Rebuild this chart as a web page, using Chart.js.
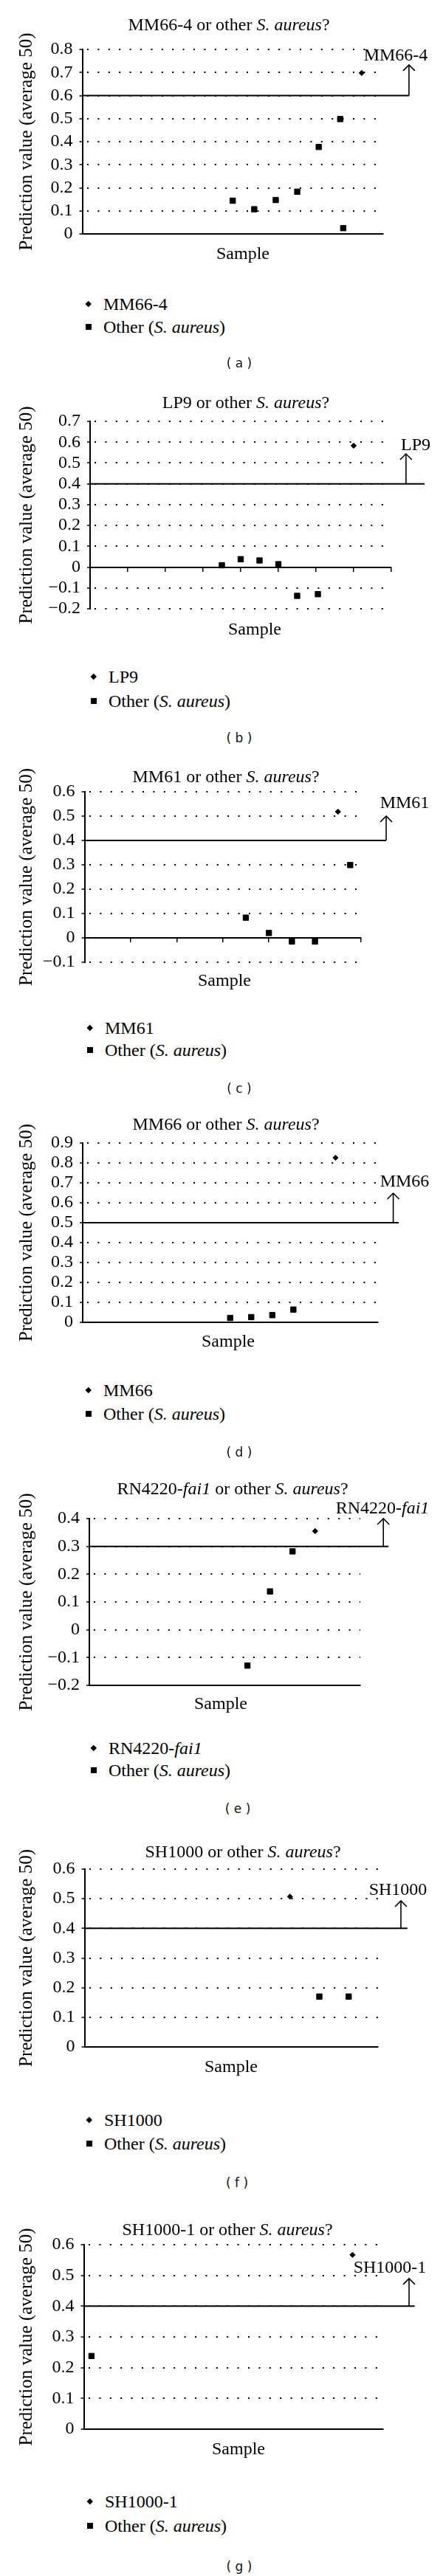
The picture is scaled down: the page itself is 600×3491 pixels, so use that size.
<!DOCTYPE html>
<html>
<head>
<meta charset="utf-8">
<title>Prediction value panels</title>
<script src="https://cdn.jsdelivr.net/npm/chart.js@4.4.1/dist/chart.umd.min.js"></script>
<style>
  body { margin: 0; background: #fff; }
  #page { position: relative; width: 600px; height: 3491px; overflow: hidden; color: #000;
          font-family: "Liberation Serif", "Times New Roman", serif; }
  #page canvas { position: absolute; left: 0; }
  .txt { position: absolute; white-space: nowrap; font-size: 24px; line-height: 1; transform: translate(-50%, -50%); }
  .leg { transform: translate(0, -50%); }
  .cap { font-family: "DejaVu Sans", sans-serif; font-size: 17px; color: #111; }
  .mk { position: absolute; background: #000; }
</style>
</head>
<body>
<div id="page"></div>
<script>
// ---- values ----
const strainNames = ['MM66-4', 'LP9', 'MM61', 'MM66', 'RN4220-<i>fai1</i>', 'SH1000', 'SH1000-1'];
const panelLetters = ['a', 'b', 'c', 'd', 'e', 'f', 'g'];
const thresholds = [0.6, 0.4, 0.4, 0.5, 0.3, 0.4, 0.4];
const yMins = [0, -0.2, -0.1, 0, -0.2, 0, 0];
const yMaxs = [0.8, 0.7, 0.6, 0.9, 0.4, 0.6, 0.6];
const sampleMax = [14, 16, 12, 14, 12, 10, 39];

// (a) MM66-4
const aStrainX = [13];
const aStrainY = [0.698];
const aOtherX = [7, 8, 9, 10, 11, 12, 12.14];
const aOtherY = [0.144, 0.107, 0.147, 0.183, 0.377, 0.498, 0.025];
// (b) LP9
const bStrainX = [14];
const bStrainY = [0.583];
const bOtherX = [7, 8, 9, 10, 11, 12.1];
const bOtherY = [0.009, 0.038, 0.032, 0.014, -0.138, -0.130];
// (c) MM61
const cStrainX = [11];
const cStrainY = [0.518];
const cOtherX = [7, 8, 9, 10, 11.53];
const cOtherY = [0.083, 0.020, -0.015, -0.015, 0.299];
// (d) MM66
const dStrainX = [12];
const dStrainY = [0.826];
const dOtherX = [7, 8, 9, 10];
const dOtherY = [0.022, 0.026, 0.036, 0.064];
// (e) RN4220-fai1
const eStrainX = [10];
const eStrainY = [0.355];
const eOtherX = [7, 8, 9];
const eOtherY = [-0.129, 0.138, 0.282];
// (f) SH1000
const fStrainX = [7];
const fStrainY = [0.507];
const fOtherX = [8, 9];
const fOtherY = [0.170, 0.170];
// (g) SH1000-1
const gStrainX = [35];
const gStrainY = [0.567];
const gOtherX = [1];
const gOtherY = [0.238];

const strainX = [aStrainX, bStrainX, cStrainX, dStrainX, eStrainX, fStrainX, gStrainX];
const strainY = [aStrainY, bStrainY, cStrainY, dStrainY, eStrainY, fStrainY, gStrainY];
const otherX = [aOtherX, bOtherX, cOtherX, dOtherX, eOtherX, fOtherX, gOtherX];
const otherY = [aOtherY, bOtherY, cOtherY, dOtherY, eOtherY, fOtherY, gOtherY];

// ---- layout (page pixels / axis units), kept apart from the values ----
// plot area of each panel: [left, right, top, bottom]
const plotBoxes = [
  [111.5, 519, 67, 317],
  [122, 530, 571, 825],
  [114.5, 489, 1073, 1304],
  [112, 511.5, 1549, 1792],
  [121, 488, 2058, 2284],
  [114.5, 512, 2533, 2774],
  [113.5, 519, 3042, 3292]
];
const axisCross = [0, 0, 0, 0, -0.2, 0, 0];     // y value where the sample axis sits
const axisTickStep = [0, 2, 2, 0, 0, 0, 0];     // 0 = no tick marks
const thrEnds = [15.2, 17.77, 13.09, 15.0, 13.25, 11.0, 43.1];
const arrowXs = [15.2, 16.78, 13.09, 14.74, 13.02, 10.78, 42.37];
const arrowTips = [0.733, 0.544, 0.5, 0.648, 0.4, 0.493, 0.49];

const titlePos = [[310, 33], [333, 545], [306, 1052], [306, 1523], [315, 2017], [329, 2509], [308, 3021]];
const labelPos = [[536, 74], [563, 602], [548, 1087], [548, 1600], [518, 2043], [539, 2560], [528, 3072]];
const samplePos = [[329, 343], [345, 852], [304, 1328], [309, 1817], [299, 2308], [313, 2800], [323, 3318]];
const legendPos = [[120, 412, 443], [127, 917, 950], [122, 1393, 1423], [120, 1884, 1916],
                   [127, 2369, 2399], [121, 2873, 2905], [122, 3390, 3423]];
const captionPos = [[324, 492], [324, 1000], [324, 1475], [324, 1968], [322, 2451], [321, 2958], [324, 3478]];

const serif = '"Liberation Serif", "Times New Roman", serif';
const page = document.getElementById('page');

function addText(html, x, y, cls) {
  const d = document.createElement('div');
  d.className = 'txt ' + (cls || '');
  d.innerHTML = html;
  d.style.left = x + 'px';
  d.style.top = y + 'px';
  page.appendChild(d);
}

function addMarker(x, y, size, diamond) {
  const m = document.createElement('div');
  m.className = 'mk';
  m.style.width = size + 'px';
  m.style.height = size + 'px';
  m.style.left = (x - size / 2) + 'px';
  m.style.top = (y - size / 2) + 'px';
  if (diamond) m.style.transform = 'rotate(45deg)';
  page.appendChild(m);
}

function fmtTick(v) {
  const r = Math.round(v * 10) / 10;
  if (r === 0) return '0';
  return (r < 0 ? '\u2212' : '') + Math.abs(r).toFixed(1);
}

// open chevron on top of the arrow shaft
const arrowHead = {
  id: 'arrowHead',
  afterDatasetsDraw(chart) {
    const ctx = chart.ctx;
    chart.data.datasets.forEach((ds, i) => {
      if (!ds.isArrow) return;
      const pts = chart.getDatasetMeta(i).data;
      const tip = pts[pts.length - 1];
      ctx.save();
      ctx.strokeStyle = '#000';
      ctx.lineWidth = 1.6;
      ctx.beginPath();
      ctx.moveTo(tip.x - 8, tip.y + 8);
      ctx.lineTo(tip.x, tip.y);
      ctx.lineTo(tip.x + 8, tip.y + 8);
      ctx.stroke();
      ctx.restore();
    });
  }
};

for (let i = 0; i < 7; i++) {
  const [L, R, T, B] = plotBoxes[i];
  const top = T - 70;
  const h = Math.round(B - top + 60);

  const canvas = document.createElement('canvas');
  canvas.width = 600;
  canvas.height = h;
  canvas.style.top = top + 'px';
  canvas.style.width = '600px';
  canvas.style.height = h + 'px';
  page.appendChild(canvas);

  const thr = thresholds[i];

  new Chart(canvas, {
    type: 'scatter',
    data: {
      datasets: [
        {
          label: 'Other (S. aureus)',
          data: otherX[i].map((x, k) => ({ x: x, y: otherY[i][k] })),
          pointStyle: 'rect',
          pointRadius: 5.2,
          backgroundColor: '#000',
          borderColor: '#000',
          borderWidth: 1
        },
        {
          label: strainNames[i],
          data: strainX[i].map((x, k) => ({ x: x, y: strainY[i][k] })),
          pointStyle: 'rectRot',
          pointRadius: 3.6,
          backgroundColor: '#000',
          borderColor: '#000',
          borderWidth: 1
        },
        {
          type: 'line',
          label: 'cut-off',
          data: [{ x: 0, y: thr }, { x: thrEnds[i], y: thr }],
          borderColor: '#000',
          borderWidth: 2,
          pointRadius: 0,
          clip: false
        },
        {
          type: 'line',
          label: 'arrow',
          isArrow: true,
          data: [{ x: arrowXs[i], y: thr }, { x: arrowXs[i], y: arrowTips[i] }],
          borderColor: '#000',
          borderWidth: 1.6,
          pointRadius: 0,
          clip: false
        }
      ]
    },
    options: {
      responsive: false,
      animation: false,
      devicePixelRatio: 1,
      layout: { padding: { left: 0, right: 600 - R, top: T - top, bottom: top + h - B } },
      plugins: { legend: { display: false }, tooltip: { enabled: false } },
      scales: {
        x: {
          type: 'linear',
          min: 0,
          max: sampleMax[i],
          position: { y: axisCross[i] },
          ticks: { display: false, stepSize: axisTickStep[i] || sampleMax[i] },
          grid: {
            display: axisTickStep[i] > 0,
            drawOnChartArea: false,
            drawTicks: true,
            tickLength: 5,
            color: '#000',
            lineWidth: 1.5
          },
          border: { display: true, color: '#000', width: 2 }
        },
        y: {
          type: 'linear',
          min: yMins[i],
          max: yMaxs[i],
          afterFit: (s) => { s.width = L; },
          ticks: {
            stepSize: 0.1,
            autoSkip: false,
            padding: 9,
            color: '#000',
            font: { family: serif, size: 24 },
            callback: fmtTick
          },
          grid: { color: '#000', lineWidth: 2, tickLength: 4, tickWidth: 1.5 },
          border: { display: true, color: '#000', width: 2, dash: [2, 12.4], dashOffset: 9.4 },
          title: {
            display: true,
            text: 'Prediction value (average 50)',
            color: '#000',
            font: { family: serif, size: 25 },
            padding: { top: 21, bottom: 0 }
          }
        }
      }
    },
    plugins: [arrowHead]
  });

  // texts around the plot
  addText(strainNames[i] + ' or other <i>S. aureus</i>?', titlePos[i][0], titlePos[i][1]);
  addText(strainNames[i], labelPos[i][0], labelPos[i][1]);
  addText('Sample', samplePos[i][0], samplePos[i][1]);

  const [lx, ly1, ly2] = legendPos[i];
  addMarker(lx, ly1, 5.5, true);
  addMarker(lx, ly2, 8, false);
  addText(strainNames[i], lx + 20, ly1, 'leg');
  addText('Other (<i>S. aureus</i>)', lx + 20, ly2, 'leg');

  addText('( ' + panelLetters[i] + ' )', captionPos[i][0], captionPos[i][1], 'cap');
}
</script>
</body>
</html>
